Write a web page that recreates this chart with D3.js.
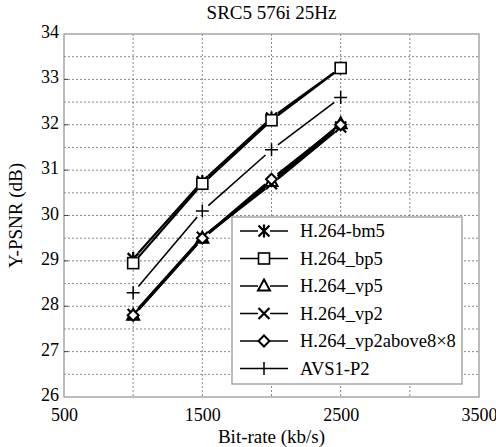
<!DOCTYPE html>
<html>
<head>
<meta charset="utf-8">
<script src="https://cdn.jsdelivr.net/npm/d3@7"></script>
<style>
body { margin: 0; background: #fff; }
svg text { font-family: "Liberation Serif", "Times New Roman", serif; fill: #000; }
</style>
</head>
<body>
<svg id="chart" width="496" height="447"></svg>
<script>
// bit-rates (kb/s)
const bitrates = [1000, 1500, 2000, 2500];

// Y-PSNR per codec config (dB)
const bm5 = [29.05, 30.75, 32.15, 33.25];
const bp5 = [28.95, 30.7, 32.1, 33.25];
const vp5 = [27.8, 29.5, 30.75, 32.02];
const vp2 = [27.82, 29.52, 30.7, 31.95];
const vp2above = [27.8, 29.5, 30.8, 32.0];
const avs = [28.3, 30.1, 31.45, 32.6];

const seriesNames = ["H.264-bm5", "H.264_bp5", "H.264_vp5", "H.264_vp2", "H.264_vp2above8\u00d78", "AVS1-P2"];
const seriesValues = [bm5, bp5, vp5, vp2, vp2above, avs];
const markerKinds = ["asterisk", "square", "triangle", "x", "diamond", "plus"];

const xTicks = [500, 1500, 2500, 3500];
const yTicks = [26, 27, 28, 29, 30, 31, 32, 33, 34];

const margin = {top: 34, right: 17, bottom: 50, left: 64};
const width = 496 - margin.left - margin.right;
const height = 447 - margin.top - margin.bottom;

const FONT = "'Liberation Serif', 'Times New Roman', serif";

const svg = d3.select("#chart");
const g = svg.append("g").attr("transform", "translate(" + margin.left + "," + margin.top + ")");

const x = d3.scaleLinear().domain([500, 3500]).range([0, width]);
const y = d3.scaleLinear().domain([26, 34]).range([height, 0]);

// grid
g.append("g").selectAll("line").data(d3.range(1000, 3500, 500))
	.enter().append("line")
	.attr("x1", d => x(d)).attr("x2", d => x(d))
	.attr("y1", 0).attr("y2", height)
	.attr("stroke", "#555").attr("stroke-width", 0.7)
	.attr("stroke-dasharray", "2,2");
g.append("g").selectAll("line").data(d3.range(26.5, 34, 0.5))
	.enter().append("line")
	.attr("x1", 0).attr("x2", width)
	.attr("y1", d => y(d)).attr("y2", d => y(d))
	.attr("stroke", "#555").attr("stroke-width", 0.7)
	.attr("stroke-dasharray", "2,2");

// frame
g.append("rect").attr("width", width).attr("height", height)
	.attr("fill", "none").attr("stroke", "#999").attr("stroke-width", 1.3);

// axes
const xAxis = d3.axisBottom(x).tickValues(xTicks).tickFormat(d3.format("d")).tickSize(0).tickPadding(13);
const yAxis = d3.axisLeft(y).tickValues(yTicks).tickFormat(d3.format("d")).tickSize(0).tickPadding(5);
const gx = g.append("g").attr("transform", "translate(0," + height + ")").call(xAxis);
const gy = g.append("g").call(yAxis);
[gx, gy].forEach(a => {
	a.attr("font-family", FONT).attr("font-size", 18);
	a.select(".domain").remove();
	a.selectAll("text").attr("font-size", "18px").style("font-family", FONT);
});
gx.selectAll("text").attr("dy", "0.62em");
gy.selectAll("text").attr("dy", "0.2em");

// small tick marks at the gridlines
g.append("g").selectAll("line").data(yTicks.slice(1, -1))
	.enter().append("line")
	.attr("x1", 0).attr("x2", 4).attr("y1", d => y(d)).attr("y2", d => y(d))
	.attr("stroke", "#444");

// titles
svg.append("text").attr("x", margin.left + width / 2).attr("y", 19)
	.attr("text-anchor", "middle").attr("font-size", "19px").style("font-family", FONT).text("SRC5 576i 25Hz");
svg.append("text").attr("x", margin.left + width / 2).attr("y", 443)
	.attr("text-anchor", "middle").attr("font-size", "19px").style("font-family", FONT).text("Bit-rate (kb/s)");
svg.append("text").attr("transform", "translate(22," + (margin.top + height / 2) + ") rotate(-90)")
	.attr("text-anchor", "middle").attr("font-size", "19px").style("font-family", FONT).text("Y-PSNR (dB)");

function drawMarker(sel, kind, cx, cy) {
	const s = 5.5;
	const p = sel.append("g").attr("transform", "translate(" + cx + "," + cy + ")")
		.attr("fill", "none").attr("stroke", "#000").attr("stroke-width", 1.6);
	if (kind === "square") {
		p.append("rect").attr("x", -s).attr("y", -s).attr("width", 2 * s).attr("height", 2 * s).attr("fill", "#fff");
	} else if (kind === "triangle") {
		p.append("path").attr("d", "M0," + (-s - 1) + "L" + (s + 0.5) + "," + (s - 1) + "L" + (-s - 0.5) + "," + (s - 1) + "Z").attr("fill", "#fff").attr("stroke-width", 2);
	} else if (kind === "diamond") {
		p.append("path").attr("d", "M0," + (-s) + "L" + s + ",0L0," + s + "L" + (-s) + ",0Z").attr("fill", "#fff").attr("stroke-width", 2);
	} else if (kind === "x") {
		p.append("path").attr("d", "M" + (-s) + "," + (-s) + "L" + s + "," + s + "M" + (-s) + "," + s + "L" + s + "," + (-s)).attr("stroke-width", 2.2);
	} else if (kind === "plus") {
		p.append("path").attr("d", "M" + (-s - 1) + ",0L" + (s + 1) + ",0M0," + (-s - 1) + "L0," + (s + 1)).attr("stroke-width", 1.5);
	} else if (kind === "asterisk") {
		p.append("path").attr("d", "M" + (-s) + "," + (-s) + "L" + s + "," + s + "M" + (-s) + "," + s + "L" + s + "," + (-s) + "M0," + (-s - 1) + "L0," + (s + 1)).attr("stroke-width", 2.2);
	}
}

// series lines, broken near each marker
const gap = 8;
const lineWidths = [2.2, 2.2, 2.8, 2.6, 2.6, 1.6];
seriesValues.forEach((vals, si) => {
	const sg = g.append("g");
	for (let i = 0; i < vals.length - 1; i++) {
		const x1 = x(bitrates[i]), y1 = y(vals[i]);
		const x2 = x(bitrates[i + 1]), y2 = y(vals[i + 1]);
		const len = Math.hypot(x2 - x1, y2 - y1);
		const ux = (x2 - x1) / len, uy = (y2 - y1) / len;
		sg.append("line")
			.attr("x1", x1 + ux * gap).attr("y1", y1 + uy * gap)
			.attr("x2", x2 - ux * gap).attr("y2", y2 - uy * gap)
			.attr("stroke", "#000").attr("stroke-width", lineWidths[si]);
	}
});
seriesValues.forEach((vals, si) => {
	vals.forEach((v, i) => drawMarker(g, markerKinds[si], x(bitrates[i]), y(v)));
});

// legend
const lg = svg.append("g").attr("transform", "translate(232,217)");
lg.append("rect").attr("width", 230).attr("height", 167)
	.attr("fill", "#fff").attr("stroke", "#999").attr("stroke-width", 1.3);
seriesNames.forEach((name, i) => {
	const row = lg.append("g").attr("transform", "translate(0," + (14 + i * 27.5) + ")");
	row.append("line").attr("x1", 8).attr("x2", 56).attr("stroke", "#000").attr("stroke-width", 1.6);
	row.append("rect").attr("x", 26).attr("y", -6).attr("width", 12).attr("height", 12).attr("fill", "#fff");
	drawMarker(row, markerKinds[i], 32, 0);
	row.append("text").attr("x", 68).attr("y", 6).attr("font-size", "18.5px").style("font-family", FONT).text(name);
});
</script>
</body>
</html>
